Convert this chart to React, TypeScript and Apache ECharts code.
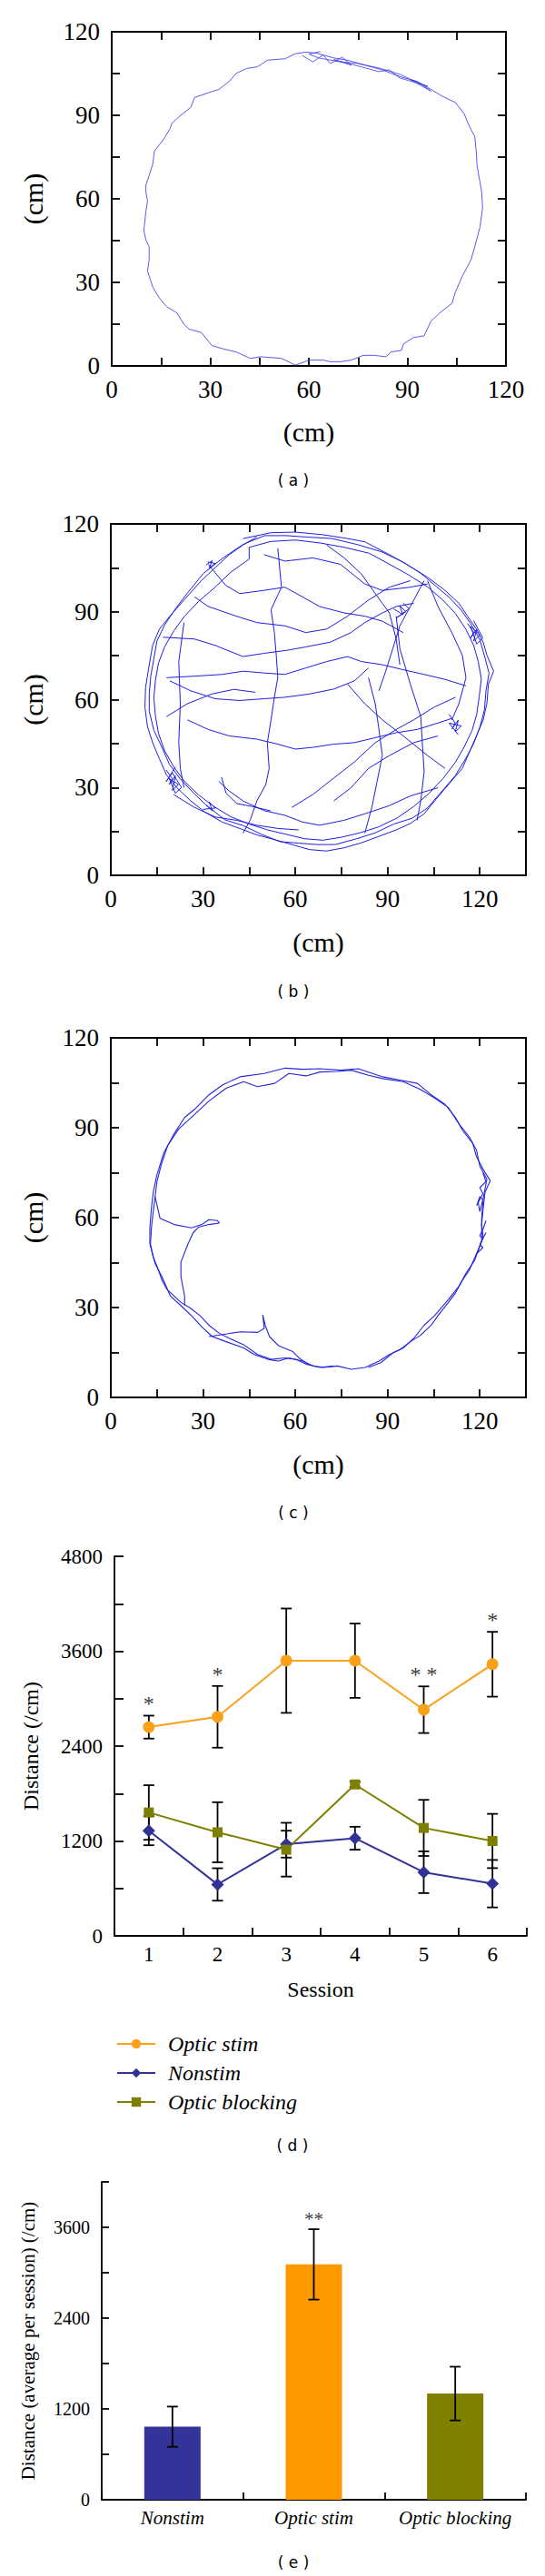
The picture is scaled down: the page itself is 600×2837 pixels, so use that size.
import React, { useEffect, useRef } from 'react';
import * as echarts from 'echarts';

// ---------- Panel (a): single trajectory ----------
const trajA = [[55.9,112.1],[59.1,112.7],[62.3,112.3],[67.6,110.6],[71.8,109.8],[77.1,108.0],[82.4,106.3],[87.7,103.9],[93.0,102.2],[97.2,99.3],[100.4,97.0],[104.6,94.6],[107.3,90.5],[108.9,85.9],[110.5,82.4],[111.0,76.6],[111.2,71.9],[112.6,62.6],[112.9,56.8],[112.1,49.8],[110.5,42.8],[109.4,38.2],[106.8,32.4],[104.6,26.5],[103.6,22.5],[100.4,19.6],[97.2,16.1],[95.1,10.8],[91.9,10.2],[88.8,7.9],[88.2,5.6],[85.0,5.0],[83.5,3.3],[79.8,3.8],[76.6,3.8],[72.9,2.1],[69.7,1.5],[66.5,1.5],[64.4,2.1],[60.2,2.1],[55.9,0.3],[51.7,2.7],[45.3,3.3],[42.2,2.7],[37.9,5.0],[33.7,6.2],[30.5,7.3],[27.3,12.0],[23.6,13.2],[22.0,14.9],[19.9,19.0],[16.7,21.3],[14.6,24.2],[12.5,28.3],[10.9,34.1],[11.4,38.2],[11.4,42.8],[10.4,45.2],[9.8,48.6],[10.4,55.6],[10.9,59.1],[10.4,62.6],[10.4,64.9],[11.4,68.4],[12.5,72.5],[13.0,77.2],[15.7,81.2],[17.8,85.3],[18.3,87.1],[21.0,90.0],[24.1,92.9],[25.2,96.4],[29.4,98.1],[32.6,99.3],[35.8,102.2],[37.9,105.1],[41.1,106.8],[44.3,107.4],[47.4,109.8],[52.7,110.3],[55.9,112.1]];
const trajAScribble = [[58.0,111.5],[61.2,109.2],[64.4,111.7],[66.5,108.6],[70.2,110.9],[72.9,108.0],[67.6,110.0],[76.0,107.4],[81.3,105.7],[84.5,106.3],[87.7,103.4],[93.0,101.6],[96.2,100.4],[90.9,102.8],[97.2,98.7],[94.5,100.9],[88.0,104.6],[82.0,106.8],[75.0,108.6],[69.0,109.3],[63.0,110.6],[60.0,112.0],[63.5,112.9]];

// ---------- Panel (b): many crossing trajectories ----------
const bRing1 = [[43.0,115.0],[52.1,117.0],[60.0,117.2],[69.1,116.3],[77.0,115.0],[82.6,113.9],[90.6,109.5],[96.2,106.2],[103.0,101.8],[108.7,97.3],[113.2,92.9],[116.0,88.5],[118.9,84.1],[121.1,79.6],[122.3,75.2],[124.5,69.7],[122.8,65.3],[122.3,58.6],[121.1,53.1],[118.9,47.6],[116.6,42.0],[114.3,36.5],[109.8,31.0],[105.3,25.4],[101.9,21.0],[97.4,17.7],[92.8,15.5],[87.2,13.3],[81.5,11.1],[75.9,9.4],[70.2,8.3],[64.5,8.8],[58.9,10.5],[53.2,12.2],[47.5,13.8],[41.9,16.0],[36.2,18.2],[30.6,21.6],[26.0,25.4],[21.5,29.9],[18.1,34.3],[15.8,39.8],[13.6,45.3],[11.9,50.9],[11.1,57.5],[11.3,64.1],[12.5,71.9],[13.6,78.5],[15.8,84.1],[19.2,88.5],[23.8,94.0],[29.4,100.6],[34.0,105.1],[38.5,109.5],[43.0,112.8],[47.5,115.6]];
const bRing2 = [[45,112],[52,114],[60,114.5],[68,113.5],[76,112],[84,110],[91,106],[97,102.5],[103,98.5],[108,94],[112,89.5],[115.5,84],[118,78.5],[119.5,73],[120.5,67],[119.8,61],[119,55],[117.5,49.5],[115,44],[112,38.5],[108,33],[103.5,28],[98.5,23.5],[93,19.5],[87,16.5],[81,14.5],[75,13],[69,12],[63,12.5],[57,14],[51,15.5],[45,17.5],[39,20],[33.5,23.5],[28.5,27.5],[24,32],[20.5,37],[17.5,42.5],[15.5,48.5],[14.5,54.5],[14,60.5],[14.5,66.5],[15.5,72.5],[17.5,78],[20.5,83.5],[24,88.5],[28.5,93.5],[33.5,98],[39,103.5],[45,108],[45,112]];
const bRing3 = [[30,103],[36,108],[43,113],[50,116],[57,116],[64,115.5],[72,115],[80,113],[88,110.5],[95,107],[101,103],[106,98.5],[110,95],[114,90.5],[117,86],[120,80.5],[121.5,75],[123,69],[122,63],[121.5,56.5],[120,50.5],[118,45],[115.5,40],[112,34],[107.5,28.5],[103,23],[98,19.5],[92,17.5],[86,14.5],[80,12.5],[73,10.5],[67,10.5],[61,11],[55,11.5],[49,14],[43,17],[37,19],[31,24],[27,28],[22.5,33],[19,38],[16.5,44],[14,49.5],[12.5,56],[12.5,62],[13,68],[14,74],[15,80],[17.5,85.5],[21,91],[25,96.5],[30,103]];
const bPathA = [[17.0,81.3],[27.2,80.7],[34.0,78.5],[43.0,74.7],[49.8,75.8],[57.7,76.9],[63.4,78.0],[71.3,79.6],[78.1,82.9],[82.6,86.3],[88.3,89.6],[92.8,91.8],[98.5,92.9]];
const bPathB = [[31.7,106.2],[37.4,99.0],[41.9,96.2],[49.8,97.3],[56.6,98.4],[62.3,95.1],[67.9,91.8],[75.9,89.6],[82.6,88.5],[88.3,86.8],[95.1,82.9]];
const bPathC = [[18.1,67.5],[27.2,68.0],[36.2,68.6],[43.0,69.7],[49.8,69.1],[56.6,68.6],[63.4,70.8],[70.2,73.0],[77.0,74.7],[81.5,73.0],[88.3,71.9],[95.1,70.2],[101.9,68.6],[108.7,66.9],[115.5,64.7]];
const bPathD = [[19.2,66.4],[26.0,63.0],[34.0,60.3],[41.9,59.7],[49.8,60.3],[56.6,60.8],[64.5,61.9],[72.5,63.6],[79.2,66.4],[83.8,70.8]];
const bPathE = [[24.9,53.1],[31.7,49.8],[38.5,47.6],[47.5,46.5],[54.3,44.8],[60.0,43.1],[65.7,43.7],[72.5,44.8],[79.2,45.3],[86.0,47.0],[92.8,48.7],[99.6,49.8],[106.4,52.0],[110.9,53.6]];
const bPathF = [[54.3,111.7],[55.5,98.4],[52.1,90.7],[53.2,82.9],[53.8,75.2],[54.3,67.5],[53.2,60.8],[52.1,53.1],[50.9,45.3],[51.5,36.5],[50.4,31.0],[47.5,25.4],[45.3,18.8],[43.0,14.4]];
const bPathG = [[83.8,67.5],[86.0,58.6],[87.2,49.8],[88.3,40.9],[86.6,32.1],[84.9,23.2],[82.6,14.4]];
const bPathH = [[92.8,88.5],[94.0,77.4],[97.4,65.3],[100.8,54.2],[101.3,45.3],[101.9,35.4],[100.8,25.4],[99.6,18.8]];
const bPathI = [[58.9,23.2],[65.7,27.6],[72.5,33.2],[79.2,38.7],[86.0,45.3],[92.8,49.8],[98.5,53.1],[105.3,57.5],[112.1,60.8]];
const bPathK = [[27.2,95.1],[31.7,91.8],[40.8,88.5],[47.5,86.3],[56.6,85.2],[63.4,82.9],[70.2,84.1],[77.0,88.5],[83.8,94.0],[90.6,98.4],[97.4,100.6]];
const bPathL = [[35.1,32.1],[38.5,28.8],[43.0,25.4],[49.8,22.1],[56.6,20.5],[62.3,18.2],[67.9,17.1],[75.9,18.8],[82.6,21.0],[90.6,23.8],[97.4,27.1],[106.4,29.9]];
const bPathM = [[101.9,100.6],[97.4,91.8],[94.0,85.2],[91.7,77.4],[89.4,69.7],[87.2,63.0]];
const bPathN = [[23.8,86.3],[22.1,73.0],[22.6,58.6],[22.1,45.3],[22.6,36.5],[23.8,29.9]];
const bPathO = [[49.8,109.5],[56.6,107.3],[65.7,108.4],[74.7,106.2],[82.6,99.5],[88.3,97.3],[97.4,98.4],[103.0,99.5]];
const bPathQ = [[72.5,25.4],[78.1,29.9],[83.8,36.5],[90.6,40.9],[98.5,45.3],[106.4,47.6]];
const bPathR = [[18.1,54.2],[24.9,58.6],[32.8,61.9],[40.0,63.5],[47.0,62.5]];
const bPathS = [[36.0,33.5],[37.5,28.0],[41.0,24.5],[46.0,23.5],[52.0,22.0]];
const bPathT = [[103.0,100.6],[106.4,91.8],[110.9,82.9],[114.3,75.2],[115.5,67.5],[113.2,58.6],[110.9,53.1]];
const bPathU = [[70.2,112.8],[75.9,108.4],[81.5,102.9],[86.0,96.2],[90.6,89.6],[92.8,80.7],[94.0,71.9]];
const bPathV = [[20.4,27.6],[27.2,23.2],[34.0,19.9],[40.8,18.8],[47.5,17.1],[54.3,16.0],[61.1,15.5]];
const bPathW = [[77.0,65.3],[82.6,58.6],[88.3,53.1],[95.1,47.6],[103.0,40.9],[108.7,36.5]];
const bScrib1 = [[18,36],[20,33],[19,31],[21,34],[20,29],[22,31],[19,33],[21,28],[23,30],[20,35],[18,32],[21,37]];
const bScrib2 = [[116,86],[118,83],[117,81],[119,84],[118,80],[120,82],[117,85],[119,79],[121,81],[118,87]];
const bScrib3 = [[110,55],[112,52],[111,50],[113,53],[112,49],[114,51],[110,52],[113,48]];
const bScrib4 = [[92,91],[95,89],[94,92],[96,90],[93,88],[97,91],[95,93]];
const bScrib5 = [[31,106],[33,107.5],[32,105],[34,106.5],[31.5,107]];
const bScrib6 = [[31,24],[33,22],[32,25],[34,23],[30,22.5]];

// ---------- Panel (c): trajectory with two excursions ----------
const cRing1 = [[42.0,107.0],[49.9,108.1],[56.7,109.9],[62.4,109.5],[68.0,109.7],[74.8,109.2],[80.5,109.7],[88.4,107.0],[94.0,105.9],[99.7,104.8],[104.2,101.0],[108.7,97.8],[112.1,93.4],[114.4,89.1],[117.7,84.8],[118.9,80.4],[121.1,76.1],[123.4,72.3],[121.7,68.5],[121.1,63.1],[120.6,57.7],[121.1,53.3],[118.9,47.9],[116.6,42.5],[114.4,39.2],[112.1,34.9],[109.8,31.7],[106.4,27.3],[104.2,24.1],[100.8,20.8],[97.4,18.6],[94.0,15.9],[90.6,14.3],[87.2,12.1],[82.7,10.0],[78.2,9.4],[73.7,10.5],[69.2,10.0],[65.8,10.5],[62.4,12.1],[57.9,13.2],[54.5,12.1],[51.1,12.7],[46.6,14.3],[43.2,16.5],[37.5,18.6],[33.0,20.3],[29.6,23.5],[26.2,27.3],[22.8,30.6],[19.4,33.8],[16.6,40.3],[14.4,44.7],[12.7,51.2],[12.7,56.6],[13.2,63.1],[13.8,68.5],[14.9,73.9],[17.2,81.5],[20.6,88.0],[24.0,93.4],[27.3,96.2],[31.9,101.0],[36.4,104.3],[42.0,107.0]];
const cRing2 = [[14.4,66.9],[15.0,72.0],[16.5,78.0],[18.5,84.0],[22.0,89.5],[27.3,94.5],[31.9,98.9],[37.5,103.2],[43.2,105.4],[47.7,103.7],[53.3,104.8],[57.9,108.1],[63.5,107.3],[68.0,108.6],[73.7,108.8],[78.2,109.2],[83.8,107.5],[88.4,106.4],[95.1,105.4],[100.8,102.7],[105.3,99.9],[109.8,96.7],[113.2,91.3],[116.6,86.9],[118.9,82.6],[120.0,77.2],[122.3,72.8],[121.1,66.3],[120.6,59.8],[120.6,52.2],[118.3,45.7],[115.5,41.4],[113.2,37.1],[109.8,32.7],[105.3,27.3],[101.9,24.1],[98.5,19.7],[95.1,16.5],[91.8,14.9],[87.8,11.6],[83.8,10.0]];
const cLeft = [[14.4,66.9],[13.8,62.0],[13.2,56.6],[12.9,51.2],[13.8,46.8],[15.5,42.5],[16.6,39.2],[18.3,36.0],[20.6,33.8],[22.8,31.7],[25.6,30.0],[29.0,27.3],[31.9,24.1],[35.3,21.4],[38.6,19.7],[43.2,17.6],[47.7,14.3],[52.2,12.7],[56.7,13.2],[60.1,12.7],[63.5,11.1],[68.0,10.0],[72.5,10.5]];
const cBranch1 = [[14.4,66.9],[16.0,59.8],[20.6,57.7],[26.2,56.6],[29.6,57.7],[31.9,59.3],[34.7,59.0],[35.3,58.2],[31.9,57.7],[28.5,56.8],[26.8,55.0],[25.1,51.2],[22.8,45.2],[22.8,40.3],[24.0,33.8],[24.0,30.6]];
const cBranch2 = [[31.9,20.3],[36.4,21.0],[42.0,21.9],[47.7,21.7],[49.9,23.0],[49.4,27.5],[50.2,24.1],[51.6,20.3],[54.5,17.3],[59.0,15.4],[61.2,13.2],[64.1,11.1]];
const cScrib1 = [[121,75],[122,72],[120,70],[121,68],[119,64],[120,67],[121,66],[120,62],[119.5,65]];
const cScrib2 = [[122,59],[121,56],[120,54],[121,53],[122,55],[120,51],[121,50],[119,48]];

// ---------- Panel (d): distance per session ----------
const sessions = ['1', '2', '3', '4', '5', '6'];
const opticStim = [2640, 2770, 3480, 3480, 2860, 3435];
const opticStimErr = [145, 390, 660, 470, 295, 410];
const nonstim = [1330, 650, 1160, 1235, 805, 660];
const nonstimErr = [184, 205, 170, 145, 264, 300];
const opticBlocking = [1560, 1310, 1090, 1915, 1365, 1200];
const opticBlockingErr = [345, 380, 340, 35, 355, 343];
const sessionStars = ['*', '*', '', '', '* *', '*'];

// ---------- Panel (e): average per session ----------
const groups = ['Nonstim', 'Optic stim', 'Optic blocking'];
const groupMeans = [965, 3110, 1403];
const groupErr = [266, 465, 355];
const groupStars = ['', '**', ''];

const SERIF = "'Liberation Serif', 'Times New Roman', serif";
const ORANGE = '#F9A11B';
const BLUE = '#323296';
const OLIVE = '#7E7E00';

export default function App() {
  const ref = useRef<HTMLDivElement>(null);

  useEffect(() => {
    document.body.style.margin = '0';
    const chart = echarts.init(ref.current!, null, { renderer: 'svg' });

    const axisLine = { show: true, onZero: false, lineStyle: { color: '#000', width: 1.8 } };
    const boxTick = { show: true, inside: true, length: 9, lineStyle: { color: '#000', width: 1.8 } };
    const boxLabel = (show: boolean) => ({
      show, margin: 12, fontFamily: SERIF, fontSize: 27, color: '#000',
      formatter: (v: number) => (v % 30 === 0 ? String(v) : ''),
    });
    const nameStyle = { fontFamily: SERIF, fontSize: 30, color: '#000', verticalAlign: 'middle' };

    const boxX = (grid: number, max: number, pos: string, gapName?: number) => ({
      type: 'value', gridIndex: grid, position: pos, min: 0, max, interval: 15,
      axisLine, axisTick: boxTick, axisLabel: boxLabel(pos === 'bottom'), splitLine: { show: false },
      ...(gapName ? { name: '(cm)', nameLocation: 'middle', nameGap: gapName, nameTextStyle: nameStyle } : {}),
    });
    const boxY = (grid: number, pos: string, gapName?: number) => ({
      type: 'value', gridIndex: grid, position: pos, min: 0, max: 120, interval: 15,
      axisLine, axisTick: boxTick, axisLabel: { ...boxLabel(pos === 'left'), margin: 13 }, splitLine: { show: false },
      ...(gapName ? { name: '(cm)', nameLocation: 'middle', nameGap: gapName, nameTextStyle: nameStyle } : {}),
    });

    const traj = (data: number[][], axis: number, color: string, width: number) => ({
      type: 'line', xAxisIndex: axis, yAxisIndex: axis, data, showSymbol: false, symbol: 'none',
      silent: true, animation: false, lineStyle: { color, width }, z: 2,
    });

    const errBar = (grid: number, means: number[], errs: number[], name: string) => ({
      type: 'custom', name, xAxisIndex: grid, yAxisIndex: grid, z: 3, silent: true,
      data: means.map((m, i) => [i, m, errs[i]]),
      encode: { x: 0, y: 1 },
      renderItem: (params: any, api: any) => {
        const i = api.value(0), m = api.value(1), e = api.value(2);
        const top = api.coord([i, m + e]);
        const bot = api.coord([i, m - e]);
        const hw = 6;
        const st = { stroke: '#000', lineWidth: 1.8 };
        return {
          type: 'group',
          children: [
            { type: 'line', shape: { x1: top[0], y1: top[1], x2: bot[0], y2: bot[1] }, style: st },
            { type: 'line', shape: { x1: top[0] - hw, y1: top[1], x2: top[0] + hw, y2: top[1] }, style: st },
            { type: 'line', shape: { x1: bot[0] - hw, y1: bot[1], x2: bot[0] + hw, y2: bot[1] }, style: st },
          ],
        };
      },
    });

    const starSeries = (grid: number, means: number[], errs: number[], stars: string[], fontSize: number) => ({
      type: 'scatter', xAxisIndex: grid, yAxisIndex: grid, silent: true, z: 6,
      symbolSize: 2, itemStyle: { color: 'rgba(0,0,0,0)' },
      data: means.map((m, i) => ({ value: [i, m + errs[i]], star: stars[i] })).filter((d) => d.star !== ''),
      label: {
        show: true, position: 'top', distance: 0, color: '#000', fontFamily: SERIF, fontSize,
        formatter: (p: any) => p.data.star,
      },
      labelLayout: { hideOverlap: false },
    });

    const catTick = { show: true, inside: true, length: 9, alignWithLabel: false, lineStyle: { color: '#000', width: 1.8 } };

    const option: any = {
      animation: false,
      backgroundColor: '#fff',
      grid: [
        { left: 123, top: 35, width: 434, height: 368, show: true, borderColor: '#000', borderWidth: 1.8, backgroundColor: 'transparent' },
        { left: 122, top: 577, width: 457, height: 387, show: true, borderColor: '#000', borderWidth: 1.8, backgroundColor: 'transparent' },
        { left: 122, top: 1143, width: 457, height: 396, show: true, borderColor: '#000', borderWidth: 1.8, backgroundColor: 'transparent' },
        { left: 126, top: 1714, width: 454, height: 418 },
        { left: 112, top: 2403, width: 467, height: 350 },
      ],
      xAxis: [
        boxX(0, 120, 'bottom', 72), boxX(0, 120, 'top'),
        boxX(1, 135, 'bottom', 73), boxX(1, 135, 'top'),
        boxX(2, 135, 'bottom', 73), boxX(2, 135, 'top'),
        {
          type: 'category', gridIndex: 3, data: sessions, boundaryGap: true,
          axisLine, axisTick: catTick,
          axisLabel: { margin: 9, interval: 0, fontFamily: SERIF, fontSize: 23, color: '#000' },
          name: 'Session', nameLocation: 'middle', nameGap: 59,
          nameTextStyle: { fontFamily: SERIF, fontSize: 24, color: '#000', verticalAlign: 'middle' },
        },
        {
          type: 'category', gridIndex: 4, data: groups, boundaryGap: true,
          axisLine, axisTick: { ...catTick, length: 8, interval: 0 },
          axisLabel: { margin: 9, interval: 0, fontFamily: SERIF, fontSize: 21, fontStyle: 'italic', color: '#000' },
        },
      ],
      yAxis: [
        boxY(0, 'left', 87), boxY(0, 'right'),
        boxY(1, 'left', 86), boxY(1, 'right'),
        boxY(2, 'left', 86), boxY(2, 'right'),
        {
          type: 'value', gridIndex: 3, min: 0, max: 4800, interval: 600,
          axisLine, axisTick: { show: true, inside: true, length: 10, lineStyle: { color: '#000', width: 1.8 } },
          axisLabel: { margin: 13, fontFamily: SERIF, fontSize: 23, color: '#000', formatter: (v: number) => (v % 1200 === 0 ? String(v) : '') },
          splitLine: { show: false },
          name: 'Distance (/cm)', nameLocation: 'middle', nameGap: 92,
          nameTextStyle: { fontFamily: SERIF, fontSize: 24, color: '#000', verticalAlign: 'middle' },
        },
        {
          type: 'value', gridIndex: 4, min: 0, max: 4200, interval: 600,
          axisLine, axisTick: { show: true, inside: true, length: 8, lineStyle: { color: '#000', width: 1.8 } },
          axisLabel: { margin: 13, fontFamily: SERIF, fontSize: 20, color: '#000', formatter: (v: number) => (v % 1200 === 0 ? String(v) : '') },
          splitLine: { show: false },
          name: 'Distance (average per session) (/cm)', nameLocation: 'middle', nameGap: 81,
          nameTextStyle: { fontFamily: SERIF, fontSize: 21, color: '#000', verticalAlign: 'middle' },
        },
      ],
      legend: {
        data: ['Optic stim', 'Nonstim', 'Optic blocking'],
        orient: 'vertical', left: 123, top: 2234, itemWidth: 42, itemHeight: 13, itemGap: 8,
        textStyle: { fontFamily: SERIF, fontStyle: 'italic', fontSize: 24, color: '#000', padding: [0, 0, 0, 9] },
        selectedMode: false,
      },
      graphic: [
        { type: 'text', x: 323, y: 529, style: { text: '( a )', fontFamily: 'DejaVu Sans', fontSize: 17, fill: '#000', align: 'center', verticalAlign: 'middle' } },
        { type: 'text', x: 323, y: 1092, style: { text: '( b )', fontFamily: 'DejaVu Sans', fontSize: 17, fill: '#000', align: 'center', verticalAlign: 'middle' } },
        { type: 'text', x: 323, y: 1666, style: { text: '( c )', fontFamily: 'DejaVu Sans', fontSize: 17, fill: '#000', align: 'center', verticalAlign: 'middle' } },
        { type: 'text', x: 322, y: 2363, style: { text: '( d )', fontFamily: 'DejaVu Sans', fontSize: 17, fill: '#000', align: 'center', verticalAlign: 'middle' } },
        { type: 'text', x: 323, y: 2822, style: { text: '( e )', fontFamily: 'DejaVu Sans', fontSize: 17, fill: '#000', align: 'center', verticalAlign: 'middle' } },
      ],
      series: [
        traj(trajA, 0, '#4646f0', 0.9),
        traj(trajAScribble, 0, '#3a3ae8', 0.8),
        ...[bRing1, bRing2, bRing3, bPathA, bPathB, bPathC, bPathD, bPathE, bPathF, bPathG, bPathH, bPathI, bPathK, bPathL, bPathM, bPathN, bPathO, bPathQ, bPathR, bPathS, bPathT, bPathU, bPathV, bPathW, bScrib1, bScrib2, bScrib3, bScrib4, bScrib5, bScrib6]
          .map((d) => traj(d, 2, '#1e1ee0', 1.0)),
        ...[cRing1, cRing2, cLeft, cBranch1, cBranch2, cScrib1, cScrib2].map((d) => traj(d, 4, '#2525d8', 1.1)),

        errBar(6, opticStim, opticStimErr, 'errStim'),
        errBar(6, nonstim, nonstimErr, 'errNon'),
        errBar(6, opticBlocking, opticBlockingErr, 'errBlock'),
        {
          type: 'line', name: 'Optic stim', xAxisIndex: 6, yAxisIndex: 6, data: opticStim,
          symbol: 'circle', symbolSize: 13, z: 5, lineStyle: { color: ORANGE, width: 2 }, itemStyle: { color: ORANGE },
        },
        {
          type: 'line', name: 'Nonstim', xAxisIndex: 6, yAxisIndex: 6, data: nonstim,
          symbol: 'diamond', symbolSize: 14, z: 5, lineStyle: { color: BLUE, width: 2 }, itemStyle: { color: BLUE },
        },
        {
          type: 'line', name: 'Optic blocking', xAxisIndex: 6, yAxisIndex: 6, data: opticBlocking,
          symbol: 'rect', symbolSize: 11, z: 5, lineStyle: { color: OLIVE, width: 2 }, itemStyle: { color: OLIVE },
        },
        starSeries(6, opticStim, opticStimErr, sessionStars, 24),

        {
          type: 'bar', xAxisIndex: 7, yAxisIndex: 7, barWidth: 62, z: 2,
          data: groupMeans.map((v, i) => ({ value: v, itemStyle: { color: ['#333399', '#FF9900', '#808000'][i] } })),
        },
        errBar(7, groupMeans, groupErr, 'errGroup'),
        starSeries(7, groupMeans, groupErr, groupStars, 21),
      ],
    };

    chart.setOption(option);
    return () => chart.dispose();
  }, []);

  return <div ref={ref} style={{ width: 600, height: 2837 }} />;
}
